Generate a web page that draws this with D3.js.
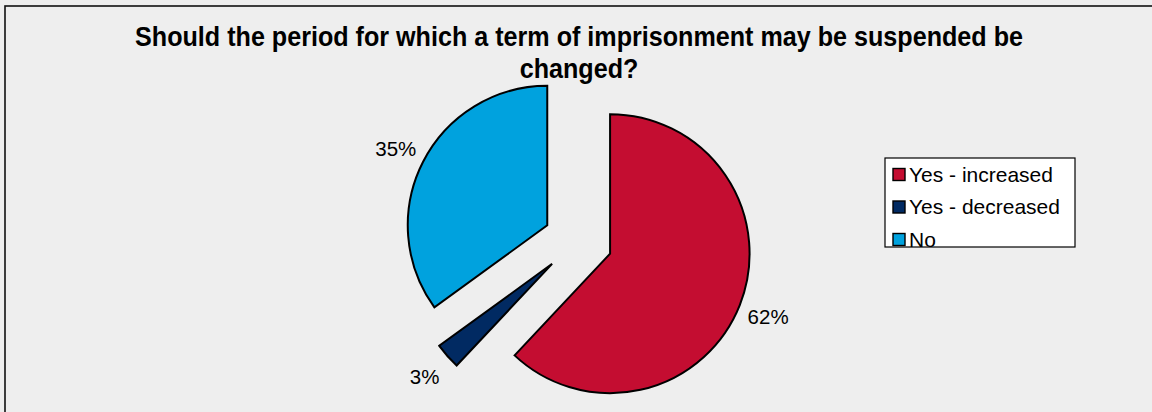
<!DOCTYPE html>
<html><head><meta charset="utf-8">
<script src="https://cdn.jsdelivr.net/npm/d3@7"></script>
<style>
html,body{margin:0;padding:0;background:#eeeeee;}
svg{display:block;}
</style></head>
<body>
<svg id="chart" width="1152" height="412"></svg>
<script>
const titleLines = ["Should the period for which a term of imprisonment may be suspended be", "changed?"];
const categories = ["Yes - increased", "Yes - decreased", "No"];
const values = [62, 3, 35];
const percentLabels = ["62%", "3%", "35%"];
const colors = ["#C40D31", "#012A62", "#00A2DE"];

const svg = d3.select("#chart");
svg.append("rect").attr("x",0).attr("y",0).attr("width",1152).attr("height",412).attr("fill","#eeeeee");
// frame
svg.append("rect").attr("x",5).attr("y",6).attr("width",1300).attr("height",600)
  .attr("fill","#eeeeee").attr("stroke","#111").attr("stroke-width",1.6);

// title
const tg = svg.append("g");
const t1 = tg.append("text").attr("x",0).attr("y",46)
  .attr("font-family","'Liberation Sans Narrow','Liberation Sans',Arial,sans-serif")
  .attr("font-weight","bold").attr("font-size",27).attr("text-anchor","middle").attr("fill","#000")
  .text(titleLines[0]);
const t2 = tg.append("text").attr("x",0).attr("y",78)
  .attr("font-family","'Liberation Sans Narrow','Liberation Sans',Arial,sans-serif")
  .attr("font-weight","bold").attr("font-size",27).attr("text-anchor","middle").attr("fill","#000")
  .text(titleLines[1]);
const natural = t1.node().getComputedTextLength();
const sx = 888 / natural;
tg.attr("transform", `translate(579,0) scale(${sx},1)`);

// pie
const cx = 578, cy = 241, R = 139.5, explode = 34.5, labelR = 170;
const pie = d3.pie().sort(null).value(d => d)(values);
const arc = d3.arc().innerRadius(0).outerRadius(R);
const pg = svg.append("g").attr("transform", `translate(${cx},${cy})`);
pie.forEach((p, i) => {
  const mid = (p.startAngle + p.endAngle) / 2;
  const dx = Math.sin(mid), dy = -Math.cos(mid);
  const g = pg.append("g").attr("transform", `translate(${dx*explode},${dy*explode})`);
  g.append("path").attr("d", arc(p)).attr("fill", colors[i])
    .attr("stroke","#000").attr("stroke-width",2).attr("stroke-linejoin","miter");
  g.append("text").attr("x", dx*labelR).attr("y", dy*labelR)
    .attr("dy","0.36em").attr("text-anchor","middle")
    .attr("font-family","'Liberation Sans',Arial,sans-serif").attr("font-size",20.5).attr("fill","#000")
    .text(percentLabels[i]);
});

// legend
const lg = svg.append("g");
lg.append("rect").attr("x",885).attr("y",158).attr("width",190).attr("height",89)
  .attr("fill","#fff").attr("stroke","#000").attr("stroke-width",1.2);
const rowY = d3.scalePoint().domain(categories).range([174.5, 239.5]);
categories.forEach((c, i) => {
  const y = rowY(c);
  lg.append("rect").attr("x",893).attr("y",y-6).attr("width",12).attr("height",12)
    .attr("fill",colors[i]).attr("stroke","#000").attr("stroke-width",1.4);
  lg.append("text").attr("x",0).attr("y",0).attr("dy","0.36em")
    .attr("transform",`translate(909,${y}) scale(1.05,1)`)
    .attr("font-family","'Liberation Sans',Arial,sans-serif").attr("font-size",20).attr("fill","#000")
    .text(c);
});
</script>
</body></html>
